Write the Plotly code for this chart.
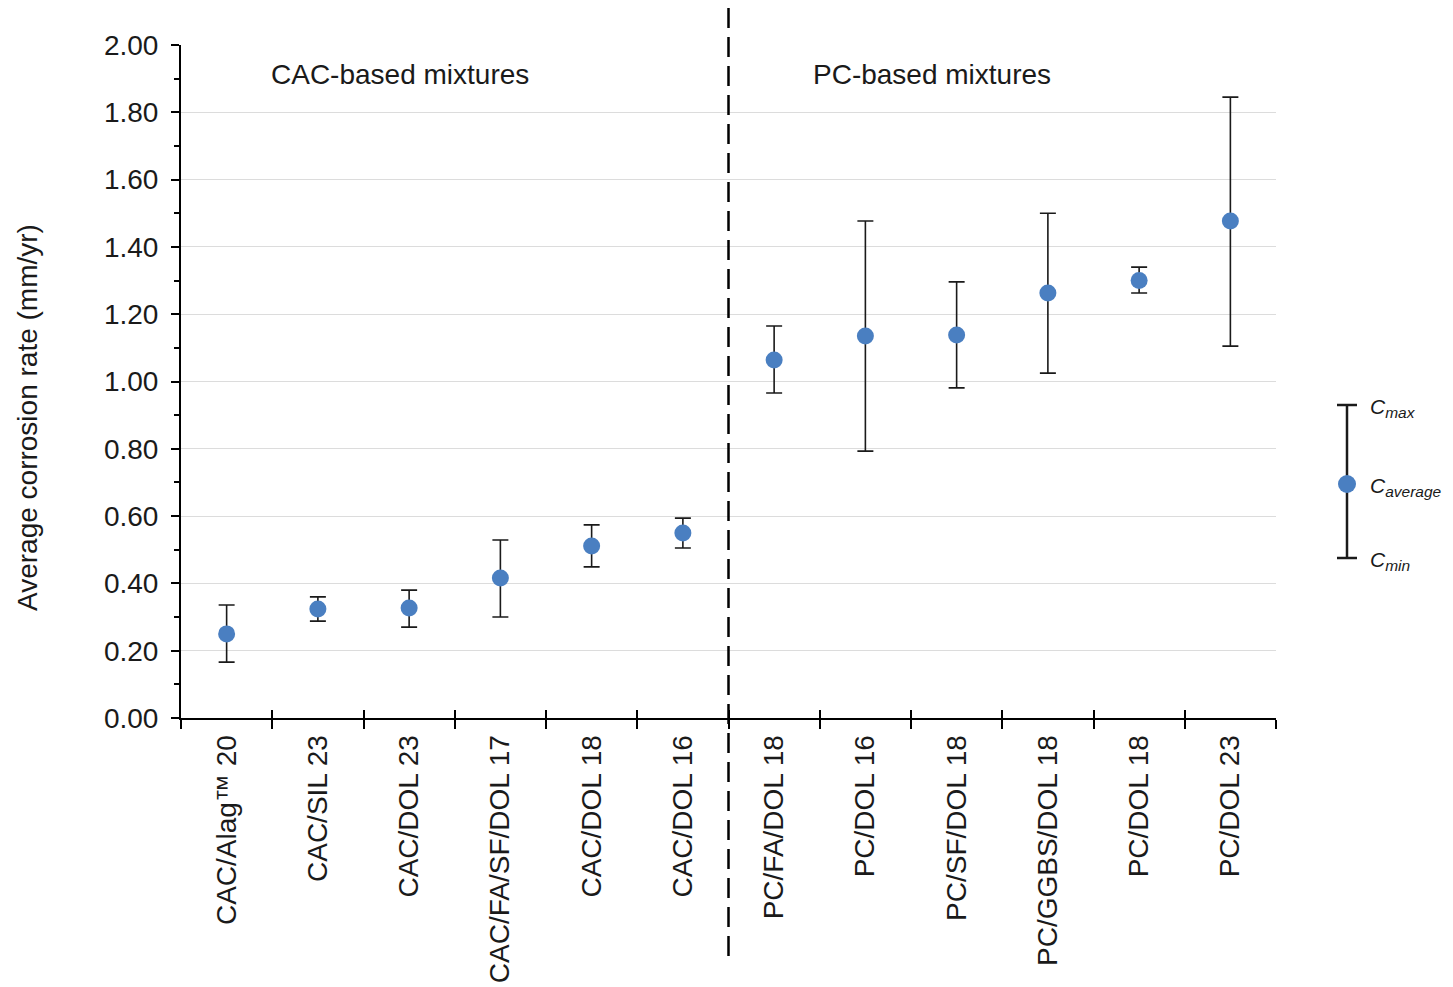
import plotly.graph_objects as go

categories = ["CAC/Alag\u2122 20", "CAC/SIL 23", "CAC/DOL 23", "CAC/FA/SF/DOL 17",
              "CAC/DOL 18", "CAC/DOL 16", "PC/FA/DOL 18", "PC/DOL 16",
              "PC/SF/DOL 18", "PC/GGBS/DOL 18", "PC/DOL 18", "PC/DOL 23"]
c_avg = [0.25, 0.324, 0.327, 0.416, 0.511, 0.55, 1.064, 1.135, 1.138, 1.263, 1.30, 1.477]
c_max = [0.336, 0.36, 0.38, 0.529, 0.574, 0.594, 1.165, 1.477, 1.296, 1.50, 1.34, 1.845]
c_min = [0.166, 0.288, 0.27, 0.30, 0.449, 0.505, 0.966, 0.793, 0.981, 1.025, 1.263, 1.105]
y_ticks = [0.0, 0.2, 0.4, 0.6, 0.8, 1.0, 1.2, 1.4, 1.6, 1.8, 2.0]

BLUE = "#4a7fc1"
FONT = "Liberation Sans, Arial, sans-serif"
TXT = "#1a1a1a"
FS = 28

err_plus = [mx - a for mx, a in zip(c_max, c_avg)]
err_minus = [a - mn for mn, a in zip(c_min, c_avg)]

fig = go.Figure()
fig.add_trace(go.Scatter(
    x=categories, y=c_avg, mode="markers",
    marker=dict(color=BLUE, size=17),
    error_y=dict(type="data", symmetric=False, array=err_plus, arrayminus=err_minus,
                 color="#1a1a1a", thickness=1.6, width=8),
    showlegend=False,
))
# helper trace for crossing ticks on x axis
fig.add_trace(go.Scatter(x=categories, y=c_avg, xaxis="x2", mode="markers",
                         marker=dict(opacity=0), hoverinfo="skip", showlegend=False))

# page body has an 8px margin: figure is 1445x979, origin at screen (8, 8)
fig.update_layout(
    width=1445, height=979,
    margin=dict(l=173, r=177, t=37, b=269),
    paper_bgcolor="white", plot_bgcolor="white",
    font=dict(family=FONT, size=FS, color=TXT),
    xaxis=dict(
        type="category", categoryorder="array", categoryarray=categories,
        range=[-0.5, 11.5], tickson="boundaries", ticks="outside", ticklen=9,
        tickwidth=2, tickcolor="black", tickangle=-90, showgrid=False,
        showline=True, linecolor="black", linewidth=2, zeroline=False,
        automargin=False, ticklabelstandoff=4,
        tickfont=dict(size=FS, color=TXT, family=FONT),
    ),
    xaxis2=dict(
        type="category", categoryorder="array", categoryarray=categories,
        range=[-0.5, 11.5], tickson="boundaries", ticks="inside", ticklen=8,
        tickwidth=2, tickcolor="black", overlaying="x", showticklabels=False,
        showgrid=False, showline=False, zeroline=False, automargin=False,
    ),
    yaxis=dict(
        range=[0, 2.0], tickvals=y_ticks, tickformat=".2f",
        ticks="outside", ticklen=8, tickwidth=2, tickcolor="black",
        showgrid=True, gridcolor="#dcdcdc", gridwidth=1,
        showline=True, linecolor="black", linewidth=2, zeroline=False,
        automargin=False, ticklabelstandoff=7,
        minor=dict(dtick=0.1, ticks="outside", ticklen=5, tickwidth=2,
                   tickcolor="black", showgrid=False),
        tickfont=dict(size=FS, color=TXT, family=FONT),
    ),
)

W, H = 1095.0, 673.0
def px(x):
    return (x - 181) / W
def py(y):
    return (718 - y) / H

# y-axis title
fig.add_annotation(text="Average corrosion rate (mm/yr)", xref="paper", yref="paper",
                   x=px(27), y=py(418), xanchor="center", yanchor="middle", textangle=-90,
                   showarrow=False, font=dict(size=FS, color=TXT, family=FONT))

# dashed separator
fig.add_shape(type="line", xref="x", yref="paper", x0=5.5, x1=5.5, y0=py(8), y1=py(958),
              line=dict(color="black", width=2.5, dash="20px,9px"))

fig.add_annotation(text="CAC-based mixtures", xref="x", yref="paper", x=1.9, y=py(75),
                   yanchor="middle", showarrow=False, font=dict(size=FS, color=TXT, family=FONT))
fig.add_annotation(text="PC-based mixtures", xref="x", yref="paper", x=7.73, y=py(75),
                   yanchor="middle", showarrow=False, font=dict(size=FS, color=TXT, family=FONT))

# custom legend
lx = px(1347)
ytop, ybot, ymid = py(405), py(558), py(484)
cap = 10 / W
fig.add_shape(type="line", xref="paper", yref="paper", x0=lx, x1=lx, y0=ybot, y1=ytop,
              line=dict(color="#1a1a1a", width=2.5))
for yy in (ytop, ybot):
    fig.add_shape(type="line", xref="paper", yref="paper", x0=lx - cap, x1=lx + cap,
                  y0=yy, y1=yy, line=dict(color="#1a1a1a", width=2.5))
rx, ry = 9 / W, 9 / H
fig.add_shape(type="circle", xref="paper", yref="paper", x0=lx - rx, x1=lx + rx,
              y0=ymid - ry, y1=ymid + ry, fillcolor=BLUE, line=dict(width=0))
for lab, yy in (("max", 408), ("average", 487), ("min", 561)):
    fig.add_annotation(text="<i>C<sub><span style='font-size:15.5px'>" + lab + "</span></sub></i>",
                       xref="paper", yref="paper",
                       x=px(1369), y=py(yy), xanchor="left", yanchor="middle", showarrow=False,
                       borderpad=0, font=dict(size=21, color=TXT, family=FONT))

fig.write_html("out.html")
